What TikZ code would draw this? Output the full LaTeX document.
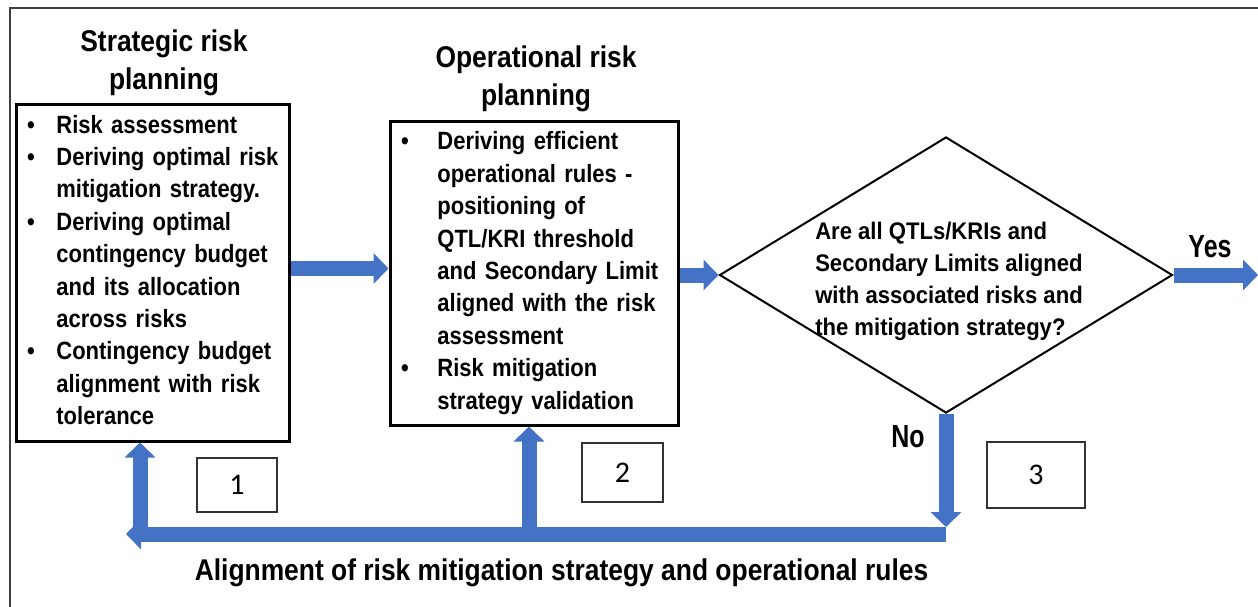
\documentclass[tikz,border=0pt]{standalone}
\usepackage{fontspec}
\setmainfont{Liberation Sans}
\newfontfamily\condfont[FakeStretch=0.88]{Liberation Sans}
\newfontfamily\quesfont[FakeStretch=0.92]{Liberation Sans}
\newfontfamily\yesnofont[FakeStretch=0.78]{Liberation Sans}
\newfontfamily\numfont{Carlito}
\usetikzlibrary{shapes.geometric, arrows.meta, positioning, calc}
\definecolor{arrowblue}{HTML}{4472C4}
\newlength{\bulw}

\begin{document}
\begin{tikzpicture}[
    x=0.5pt, y=-0.5pt,
    title/.style={align=center, inner sep=0pt, font=\condfont\bfseries\fontsize{15}{19.25}\selectfont},
    box/.style={draw, line width=1.5pt, inner xsep=5.5pt, inner ysep=0pt, align=left, font=\condfont\bfseries\fontsize{12.5}{16.2}\selectfont},
    decision/.style={diamond, draw, line width=1pt, minimum width=226.5pt, minimum height=138pt, inner sep=0pt},
    question/.style={align=left, inner sep=0pt, font=\quesfont\bfseries\fontsize{12}{16}\selectfont},
    answer/.style={inner sep=0pt, font=\yesnofont\bfseries\fontsize{16}{18}\selectfont},
    numbox/.style={draw=black!80, line width=0.6pt, inner sep=0pt, font=\numfont\fontsize{15}{18}\selectfont},
    arrow/.style={draw=arrowblue, line width=7.5pt, -{Triangle[width=15pt, length=7.5pt]}}
]
\useasboundingbox (0,0) rectangle (1258,606);
\clip (0,0) rectangle (1258,606);
\draw[black!75, line width=0.8pt] (10,8) rectangle (1300,700);

\node[title] (strattitle) at (164,63) {Strategic risk\\planning};
\node[box, text width=125.5pt, minimum height=168.5pt,
      execute at begin node={\setlength{\bulw}{14.7pt}}] (strat) at (152.5,272.5)
  {\begin{tabular}{@{}p{\bulw}@{}l@{}}
   \textbullet & Risk assessment\\
   \textbullet & Deriving optimal risk\\
               & mitigation strategy.\\
   \textbullet & Deriving optimal\\
               & contingency budget\\
               & and its allocation\\
               & across risks\\
   \textbullet & Contingency budget\\
               & alignment with risk\\
               & tolerance
   \end{tabular}};

\node[title] (opertitle) at (536,79) {Operational risk\\planning};
\node[box, text width=133pt, minimum height=152pt,
      execute at begin node={\setlength{\bulw}{18.2pt}}] (oper) at (534,273)
  {\begin{tabular}{@{}p{\bulw}@{}l@{}}
   \textbullet & Deriving efficient\\
               & operational rules -\\
               & positioning of\\
               & QTL/KRI threshold\\
               & and Secondary Limit\\
               & aligned with the risk\\
               & assessment\\
   \textbullet & Risk mitigation\\
               & strategy validation
   \end{tabular}};

\node[decision] (check) at (946,275) {};
\node[question] (checktext) at (949,281)
  {Are all QTLs/KRIs and\\
   Secondary Limits aligned\\
   with associated risks and\\
   the mitigation strategy?};

\node[answer] (yes) at (1210,247) {Yes};
\node[answer] (no) at (908,437) {No};

\node[numbox, minimum width=40pt, minimum height=27pt] (n1) at (237,485) {1};
\node[numbox, minimum width=40.5pt, minimum height=29.5pt] (n2) at (622.5,472.5) {2};
\node[numbox, minimum width=49pt, minimum height=33pt] (n3) at (1036,475) {3};

\node[inner sep=0pt, font=\condfont\bfseries\fontsize{15}{18}\selectfont] (align) at (561.5,573)
  {Alignment of risk mitigation strategy and operational rules};

\coordinate (exit) at (1258,275);
\coordinate (turn) at (946,534);
\coordinate (back) at (126,534);
\coordinate (feed1) at (140,527);
\coordinate (feed2) at (529,527);

\draw[arrow] ([yshift=2pt]strat.east) -- ([yshift=2pt]strat.east -| oper.west);
\draw[arrow] (oper.east |- check.west) -- (check.west);
\draw[arrow] (check.east) -- (check.east -| exit);
\draw[arrow] (check.south) -- (check.south |- feed1);
\draw[arrow] (turn) -- (back);
\draw[arrow] (feed1) -- (feed1 |- strat.south);
\draw[arrow] (feed2) -- (feed2 |- oper.south);
\end{tikzpicture}
\end{document}
